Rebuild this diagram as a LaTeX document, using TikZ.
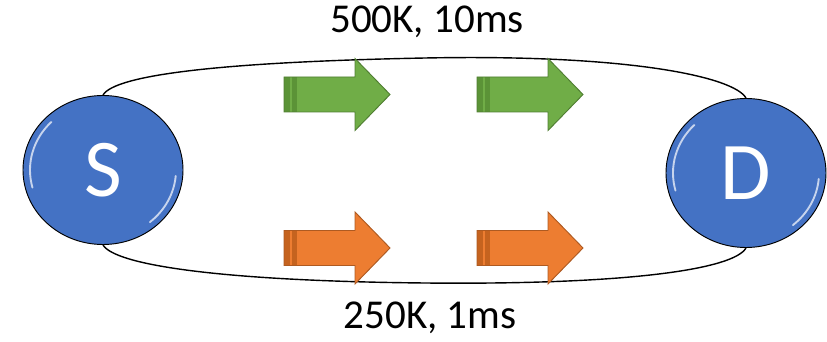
\documentclass[tikz,border=0pt]{standalone}
\usepackage{fontspec}
\setmainfont{Carlito}
\usetikzlibrary{shapes.geometric}

\definecolor{hostblue}{HTML}{4472C4}
\definecolor{flowgreen}{HTML}{70AD47}
\definecolor{flowgreenline}{HTML}{507E32}
\definecolor{flowgreendark}{HTML}{5B9337}
\definecolor{floworange}{HTML}{ED7D31}
\definecolor{floworangeline}{HTML}{AE5A21}
\definecolor{floworangedark}{HTML}{C5631F}

% striped right arrow: #1 fill, #2 outline, #3 stripe colour, (#4,#5) tail x and centre y
\newcommand\flowarrow[5]{%
  \fill[#1] (#4,#5-17.5) -- (#4+71,#5-17.5) -- (#4+71,#5-36) -- (#4+106,#5)
    -- (#4+71,#5+36) -- (#4+71,#5+17.5) -- (#4,#5+17.5) -- cycle;
  \fill[#3] (#4,#5-17.5) rectangle (#4+5.5,#5+17.5);
  \fill[#3] (#4+7.5,#5-17.5) rectangle (#4+12.5,#5+17.5);
  \draw[#2, line width=0.8pt, line join=miter]
    (#4,#5-17.5) -- (#4+71,#5-17.5) -- (#4+71,#5-36) -- (#4+106,#5)
    -- (#4+71,#5+36) -- (#4+71,#5+17.5) -- (#4,#5+17.5) -- cycle;
}

\tikzset{
  host/.style={ellipse, draw=black, line width=0.8pt, fill=hostblue,
    minimum width=4.8cm, minimum height=4.47cm, inner sep=0pt,
    text=white, font=\fontsize{70}{74}\selectfont},
  link/.style={draw=black, line width=1.2pt},
  linklabel/.style={anchor=base, inner sep=0pt, font=\fontsize{35}{40}\selectfont},
  gloss/.style={white, opacity=0.7, line width=1.6pt, line cap=round}
}

\begin{document}
\begin{tikzpicture}[x=0.03cm, y=-0.03cm]
\useasboundingbox (0,0) rectangle (827,342);

% hosts
\node[host] (S) at (103,170) {S};
\node[host] (D) at (746,173) {D};

% glossy rim highlights
\draw[gloss] (S.center) ++(-195:73 and 68) arc[start angle=-195, end angle=-135, x radius=73, y radius=68];
\draw[gloss] (S.center) ++(5:73 and 68) arc[start angle=5, end angle=50, x radius=73, y radius=68];
\draw[gloss] (D.center) ++(-195:73 and 68) arc[start angle=-195, end angle=-135, x radius=73, y radius=68];
\draw[gloss] (D.center) ++(5:73 and 68) arc[start angle=5, end angle=50, x radius=73, y radius=68];

% the two paths between the hosts
\coordinate (topmid) at (425,58);
\coordinate (botmid) at (425,283);
\draw[link] (S.north) .. controls (115,75) and (220,62) .. (topmid)
                      .. controls (630,54) and (734,77) .. (D.north);
\draw[link] (S.south) .. controls (115,265) and (220,281) .. (botmid)
                      .. controls (630,285) and (734,269) .. (D.south);

% path labels
\node[linklabel] (toplabel) at (427,33) {500K, 10ms};
\node[linklabel] (botlabel) at (430,328) {250K, 1ms};

% traffic on each path
\flowarrow{flowgreen}{flowgreenline}{flowgreendark}{284}{94.5}
\flowarrow{flowgreen}{flowgreenline}{flowgreendark}{477}{94.5}
\flowarrow{floworange}{floworangeline}{floworangedark}{284}{248}
\flowarrow{floworange}{floworangeline}{floworangedark}{477}{248}
\end{tikzpicture}
\end{document}
